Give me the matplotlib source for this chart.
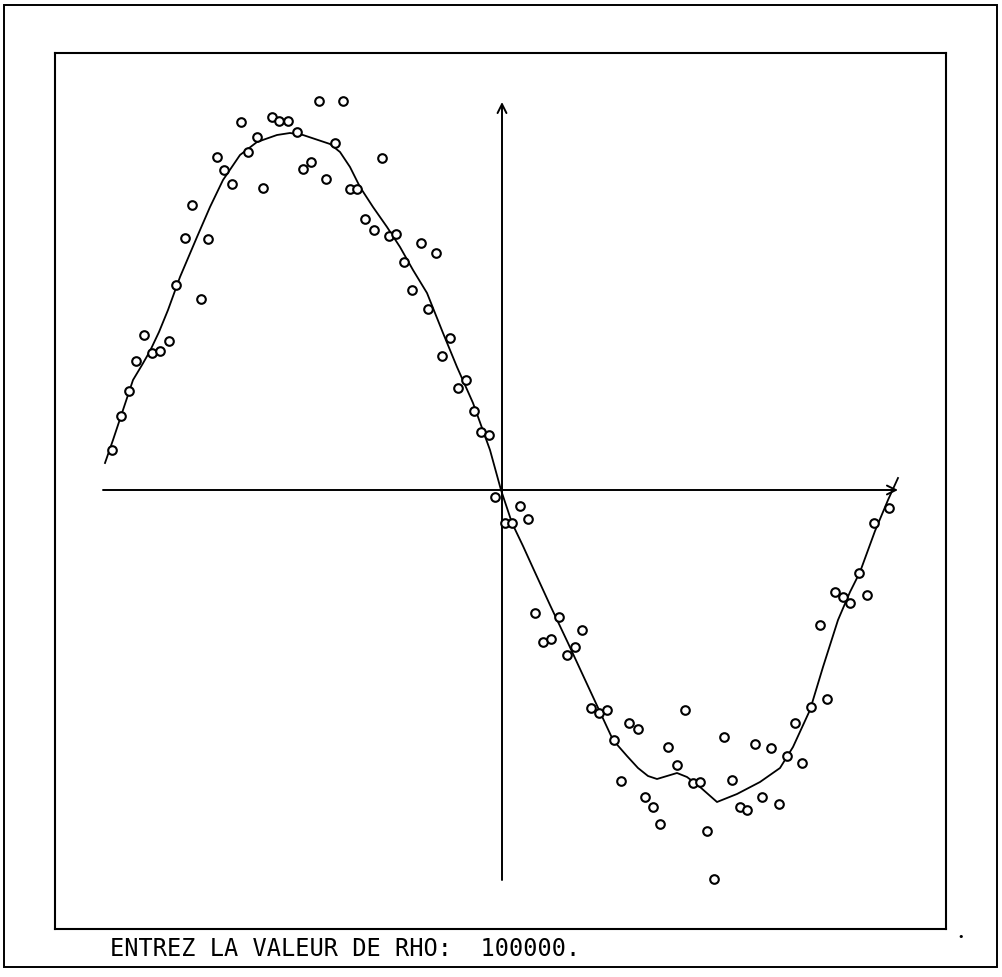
import matplotlib

matplotlib.use("Agg")
import matplotlib.pyplot as plt
from matplotlib.patches import Rectangle

# plotter units: origin where the two axes cross, +y upwards
x_pts = [-390, -381, -373, -366, -358, -350, -342, -333, -326, -317,
         -310, -301, -294, -285, -278, -270, -261, -254, -245, -239,
         -230, -223, -214, -205, -199, -191, -183, -176, -167, -159,
         -152, -145, -137, -128, -120, -113, -106, -98, -90, -81,
         -74, -66, -60, -52, -44, -36, -28, -21, -13, -7,
         3, 10, 18, 26, 33, 41, 49, 57, 65, 73,
         80, 89, 97, 105, 112, 119, 127, 136, 143, 151,
         158, 166, 175, 183, 191, 198, 205, 212, 222, 230,
         238, 245, 253, 260, 269, 277, 285, 293, 300, 309,
         318, 325, 333, 341, 348, 357, 365, 372, 387]
y_pts = [40, 74, 99, 129, 155, 137, 139, 149, 205, 252,
         285, 191, 251, 333, 320, 306, 368, 338, 353, 302,
         373, 369, 369, 358, 321, 328, 389, 311, 347, 389,
         301, 301, 271, 260, 332, 254, 256, 228, 200, 247,
         181, 237, 134, 152, 102, 110, 79, 58, 55, -7,
         -33, -33, -16, -29, -123, -152, -149, -127, -165, -157,
         -140, -218, -223, -220, -250, -291, -233, -239, -307, -317,
         -334, -257, -275, -220, -293, -292, -341, -389, -247, -290,
         -317, -320, -254, -307, -258, -314, -266, -233, -273, -217,
         -135, -209, -102, -107, -113, -83, -105, -33, -18]

# smoothed fit (rho = 100000)
x_fit = [-397, -389, -380, -369, -360, -352, -343, -334, -322, -305,
         -292, -279, -262, -245, -225, -212, -199, -187, -172, -162,
         -152, -142, -129, -115, -102, -89, -75, -59, -45, -29,
         -12, -1, 10, 21, 31, 48, 66, 85, 111, 125,
         136, 146, 155, 165, 175, 185, 198, 215, 235, 258,
         278, 291, 308, 321, 336, 348, 358, 373, 386, 396]
y_fit = [27, 50, 77, 110, 125, 139, 158, 180, 213, 253,
         283, 310, 335, 348, 355, 357, 355, 351, 346, 338,
         323, 303, 283, 263, 243, 220, 197, 157, 123, 87,
         40, 0, -33, -56, -78, -115, -153, -194, -250, -266,
         -278, -286, -289, -286, -283, -287, -297, -312, -304, -292,
         -278, -257, -220, -177, -130, -102, -82, -41, -10, 12]

prompt = "ENTREZ LA VALEUR DE RHO:  100000."

W, H = 1003, 977
fig = plt.figure(figsize=(W / 100, H / 100), dpi=100)

# outer frame of the printout
fig.patches.append(Rectangle((4 / W, 1 - 967 / H), 993 / W, 962 / H,
                             transform=fig.transFigure, fill=False,
                             edgecolor="black", linewidth=1.4))

# plotting window (inner box)
left, right, top, bottom = 55, 946, 53, 929
ax = fig.add_axes([left / W, 1 - bottom / H, (right - left) / W, (bottom - top) / H])
ax.set_xlim(left - 502, right - 502)
ax.set_ylim(490 - bottom, 490 - top)
ax.set_xticks([])
ax.set_yticks([])
for sp in ax.spines.values():
    sp.set_linewidth(1.5)

# axes with arrows
ax.annotate("", xy=(396, 0), xytext=(-399, 0),
            arrowprops=dict(arrowstyle="->", lw=1.4, color="black", mutation_scale=16,
                            shrinkA=0, shrinkB=0))
ax.annotate("", xy=(0, 388), xytext=(0, -390),
            arrowprops=dict(arrowstyle="->", lw=1.4, color="black", mutation_scale=16,
                            shrinkA=0, shrinkB=0))

ax.plot(x_fit, y_fit, color="black", linewidth=1.3, zorder=3)
ax.plot(x_pts, y_pts, linestyle="none", marker="o", markersize=6.2,
        markerfacecolor="white", markeredgecolor="black", markeredgewidth=1.5, zorder=4)

fig.text(110 / W, 1 - 956 / H, prompt, fontsize=17, family="DejaVu Sans Mono",
         ha="left", va="baseline")

# speck on the scan
fig.text(961 / W, 1 - 937 / H, "\u2022", fontsize=8, ha="center", va="center")

fig.savefig("out.png", dpi=100)
